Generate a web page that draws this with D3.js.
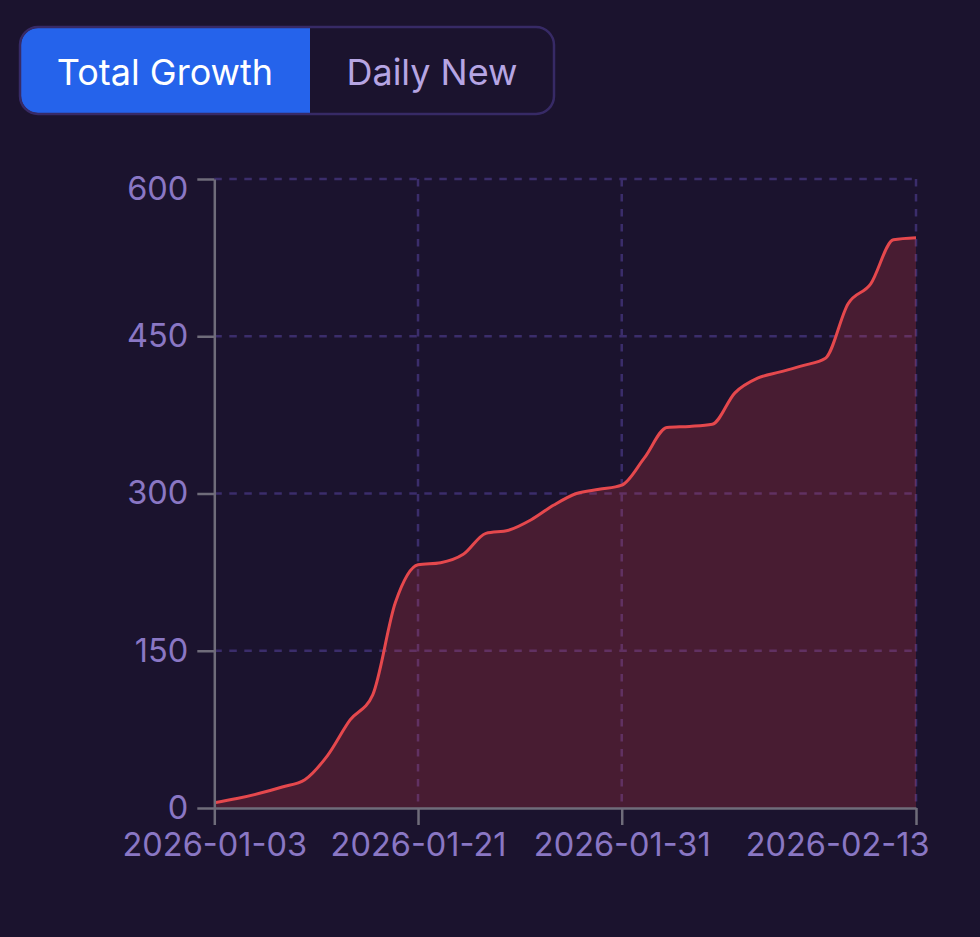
<!DOCTYPE html>
<html>
<head>
<meta charset="utf-8">
<script src="https://cdn.jsdelivr.net/npm/d3@7"></script>
<style>
  html, body { margin: 0; padding: 0; background: #1b132e; }
  svg { display: block; font-family: Inter, "Noto Sans", sans-serif; }
</style>
</head>
<body>
<svg id="chart" width="980" height="937"></svg>
<script>
// ---------------------------------------------------------------------------
// Data
// ---------------------------------------------------------------------------

const dates = [
    "2026-01-03", "2026-01-05", "2026-01-07", "2026-01-09", "2026-01-11",
    "2026-01-13", "2026-01-15", "2026-01-17", "2026-01-19", "2026-01-21",
    "2026-01-22", "2026-01-23", "2026-01-24", "2026-01-25", "2026-01-26",
    "2026-01-27", "2026-01-28", "2026-01-29", "2026-01-31", "2026-02-01",
    "2026-02-02", "2026-02-03", "2026-02-04", "2026-02-05", "2026-02-06",
    "2026-02-07", "2026-02-08", "2026-02-09", "2026-02-10", "2026-02-11",
    "2026-02-12", "2026-02-13"
];

const totals = [
    5, 9, 14, 20, 27, 50, 84, 108, 196, 232,
    234, 242, 262, 265, 275, 289, 300, 304, 308, 334,
    363, 364, 366, 396, 410, 416, 422, 429, 481, 500,
    542, 544
];

const xTicks = ["2026-01-03", "2026-01-21", "2026-01-31", "2026-02-13"];
const yTicks = [0, 150, 300, 450, 600];
const toggleLabels = ["Total Growth", "Daily New"];

// ---------------------------------------------------------------------------
// Layout
// ---------------------------------------------------------------------------

const svg = d3.select("#chart");
const plot = { left: 214.3, right: 916, top: 179, bottom: 808 };

svg.append("rect").attr("width", 980).attr("height", 937).attr("fill", "#1b132e");

// ---------------------------------------------------------------------------
// Toggle
// ---------------------------------------------------------------------------

const tog = { x: 20, y: 27, w: 534, h: 87, split: 310 };

svg.append("clipPath").attr("id", "tog-clip")
    .append("rect")
    .attr("x", tog.x + 1).attr("y", tog.y + 1)
    .attr("width", tog.w - 2).attr("height", tog.h - 2)
    .attr("rx", 17);

svg.append("rect")
    .attr("x", tog.x).attr("y", tog.y)
    .attr("width", tog.w).attr("height", tog.h)
    .attr("rx", 18)
    .attr("fill", "#1b132e");

svg.append("rect")
    .attr("clip-path", "url(#tog-clip)")
    .attr("x", tog.x).attr("y", tog.y)
    .attr("width", tog.split - tog.x).attr("height", tog.h)
    .attr("fill", "#2563eb");

svg.append("rect")
    .attr("x", tog.x).attr("y", tog.y)
    .attr("width", tog.w).attr("height", tog.h)
    .attr("rx", 18)
    .attr("fill", "none")
    .attr("stroke", "#372a66")
    .attr("stroke-width", 2.5);

svg.selectAll("text.toggle")
    .data(toggleLabels)
    .join("text")
    .attr("class", "toggle")
    .attr("x", (d, i) => i === 0 ? (tog.x + tog.split) / 2 : (tog.split + tog.x + tog.w) / 2)
    .attr("y", tog.y + tog.h / 2 + 1.5)
    .attr("dy", "0.35em")
    .attr("text-anchor", "middle")
    .attr("font-size", "36px")
    .attr("fill", (d, i) => i === 0 ? "#ffffff" : "#b6a5e3")
    .text(d => d);

// ---------------------------------------------------------------------------
// Scales
// ---------------------------------------------------------------------------

const x = d3.scalePoint().domain(dates).range([plot.left, plot.right]);
const y = d3.scaleLinear().domain([0, 600]).range([plot.bottom, plot.top]);

// Grid
const grid = svg.append("g")
    .attr("stroke", "#3b2d6b")
    .attr("stroke-width", 2.5)
    .attr("stroke-dasharray", "7.5,7.5");

grid.selectAll("line.h")
    .data(yTicks.slice(1))
    .join("line")
    .attr("class", "h")
    .attr("x1", plot.left).attr("x2", plot.right)
    .attr("y1", d => y(d)).attr("y2", d => y(d));

grid.selectAll("line.v")
    .data(xTicks.slice(1))
    .join("line")
    .attr("class", "v")
    .attr("x1", d => x(d)).attr("x2", d => x(d))
    .attr("y1", plot.top).attr("y2", plot.bottom);

// Area + line
const area = d3.area()
    .x((d, i) => x(dates[i]))
    .y0(y(0))
    .y1(d => y(d))
    .curve(d3.curveMonotoneX);

const line = d3.line()
    .x((d, i) => x(dates[i]))
    .y(d => y(d))
    .curve(d3.curveMonotoneX);

svg.append("path")
    .datum(totals)
    .attr("d", area)
    .attr("fill", "#ef4444")
    .attr("fill-opacity", 0.21);

svg.append("path")
    .datum(totals)
    .attr("d", line)
    .attr("fill", "none")
    .attr("stroke", "#e5484d")
    .attr("stroke-width", 3);

// ---------------------------------------------------------------------------
// Axes
// ---------------------------------------------------------------------------

function styleAxis(g) {
    g.select(".domain").attr("stroke", "#6f6c7a").attr("stroke-width", 2.5);
    g.selectAll(".tick line").attr("stroke", "#6f6c7a").attr("stroke-width", 2.5);
    g.selectAll(".tick text")
        .attr("fill", "#8a77c4")
        .attr("font-size", "32.5px")
        .attr("font-family", "Inter, 'Noto Sans', sans-serif");
}

const xAxis = svg.append("g")
    .attr("transform", `translate(0,${plot.bottom})`)
    .call(d3.axisBottom(x).tickValues(xTicks).tickSize(17).tickSizeOuter(0).tickPadding(8))
    .call(styleAxis);

// last date label is pulled back inside so it isn't clipped
xAxis.selectAll(".tick text")
    .filter(d => d === xTicks[xTicks.length - 1])
    .attr("text-anchor", "end")
    .attr("dx", 13);

const yAxis = svg.append("g")
    .attr("transform", `translate(${plot.left},0)`)
    .call(d3.axisLeft(y).tickValues(yTicks).tickSize(17).tickSizeOuter(0).tickPadding(9))
    .call(styleAxis);

// top label sits a little below its tick in the reference
yAxis.selectAll(".tick text").filter(d => d === 600).attr("dy", "0.62em");
</script>
</body>
</html>
